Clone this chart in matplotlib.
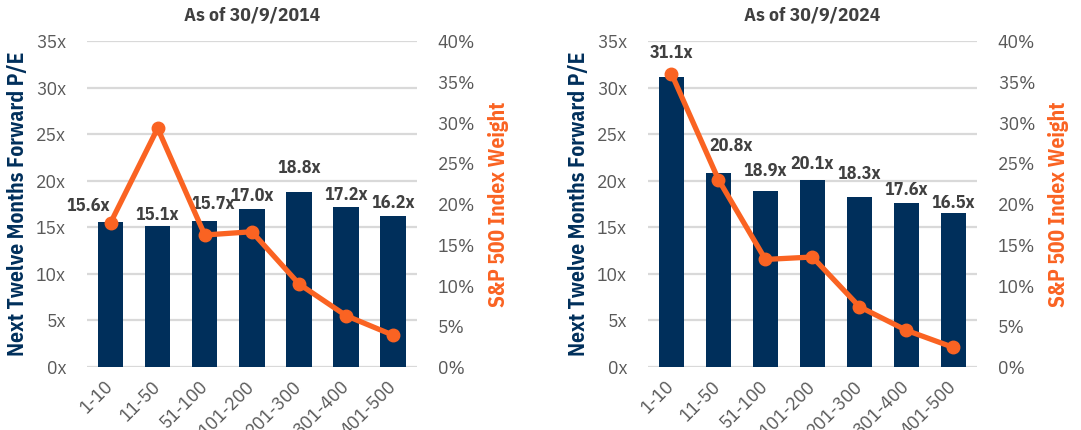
import matplotlib.pyplot as plt
from matplotlib.ticker import FuncFormatter

buckets = ["1-10", "11-50", "51-100", "101-200", "201-300", "301-400", "401-500"]

pe_2014 = [15.6, 15.1, 15.7, 17.0, 18.8, 17.2, 16.2]
weight_2014 = [17.7, 29.3, 16.2, 16.6, 10.2, 6.3, 3.9]

pe_2024 = [31.1, 20.8, 18.9, 20.1, 18.3, 17.6, 16.5]
weight_2024 = [36.0, 23.0, 13.2, 13.5, 7.4, 4.5, 2.4]

# label nudges (pixels) so they sit where the original ones do
shift_2014 = [(-22, 16), (0, 11), (8, 17), (0, 13), (0, 24), (0, 12), (0, 13)]
shift_2024 = [(0, 24), (13, 27), (0, 20), (0, 16), (0, 23), (0, 13), (0, 10)]

navy = "#002f5b"
orange = "#fa6322"
grey = "#595959"
dark = "#404040"

plt.rcParams['font.family'] = ['IBM Plex Sans Condensed', 'DejaVu Sans']

fig = plt.figure(figsize=(10.81, 4.30), dpi=100)


def panel(rect, title, pe, weight, shift):
    ax = fig.add_axes(rect)
    x = range(len(buckets))
    ax.bar(x, pe, width=0.54, color=navy, zorder=2)
    ax.set_ylim(0, 35)
    ax.set_yticks(range(0, 36, 5))
    ax.yaxis.set_major_formatter(FuncFormatter(lambda v, p: f"{v:.0f}x"))
    ax.set_xlim(-0.5, len(buckets) - 0.5)
    ax.set_xticks(list(x))
    ax.set_xticklabels(buckets, rotation=45, ha='right', va='center',
                       rotation_mode='anchor')
    ax.grid(axis='y', color='#d9d9d9', linewidth=1.6, zorder=0)
    for s in ax.spines.values():
        s.set_visible(False)
    ax.tick_params(length=0, labelsize=14, labelcolor=grey)
    ax.tick_params(axis='y', pad=15)
    ax.tick_params(axis='x', pad=12)
    ax.set_ylabel("Next Twelve Months Forward P/E", fontsize=15.5,
                  fontweight='bold', color=navy, labelpad=6)
    ax.set_title(title, fontsize=14, fontweight='bold', color=dark, pad=15)

    for i, v in enumerate(pe):
        ax.annotate(f"{v:.1f}x", (i, v), xytext=shift[i],
                    textcoords='offset pixels', ha='center', va='center',
                    fontsize=13, fontweight='bold', color=dark, zorder=5)

    ax2 = ax.twinx()
    ax2.plot(list(x), weight, color=orange, linewidth=3.8, marker='o',
             markersize=9, zorder=4)
    ax2.set_ylim(0, 40)
    ax2.set_yticks(range(0, 41, 5))
    ax2.yaxis.set_major_formatter(FuncFormatter(lambda v, p: f"{v:.0f}%"))
    for s in ax2.spines.values():
        s.set_visible(False)
    ax2.tick_params(length=0, labelsize=14, labelcolor=grey, pad=15)
    ax2.set_ylabel("S&P 500 Index Weight", fontsize=15.5, fontweight='bold',
                   color=orange, labelpad=9)


panel([0.0805, 0.1465, 0.305, 0.758], "As of 30/9/2014", pe_2014, weight_2014, shift_2014)
panel([0.5994, 0.1465, 0.3043, 0.758], "As of 30/9/2024", pe_2024, weight_2024, shift_2024)

fig.savefig("out.png", dpi=100)
